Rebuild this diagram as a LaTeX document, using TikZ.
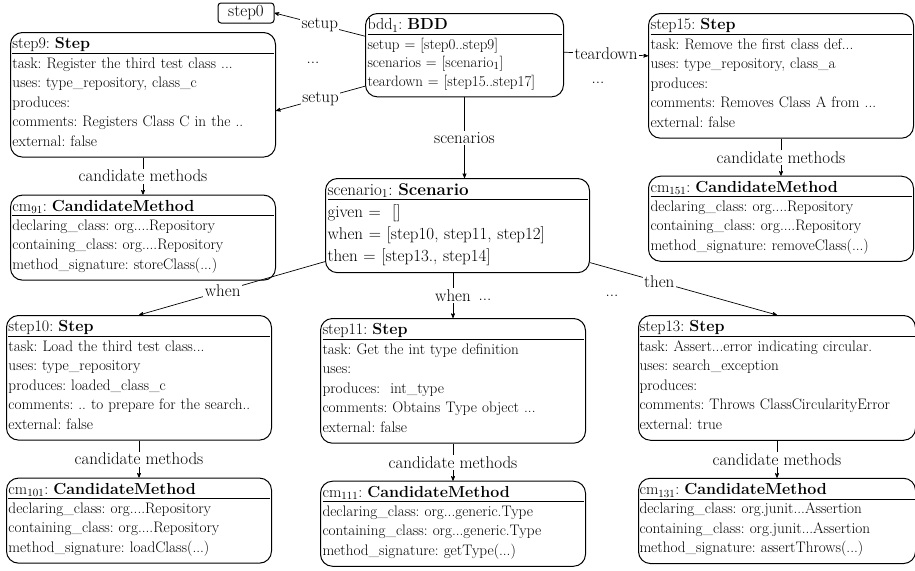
\documentclass[tikz,border=0pt]{standalone}
\usepackage{amsmath}
\usepackage{tikz}
\usetikzlibrary{arrows}
\usetikzlibrary{positioning}
\tikzset{->, > = stealth', node distance = 37pt}
\tikzset{
  obj/.style = {draw, rounded corners = 12pt, line width = 1pt, anchor = north west, align = left,
    inner xsep = 2pt, inner ysep = 5pt, text width = 261pt, font = \fontsize{15.2}{19.5}\selectfont},
  cand/.style = {obj, anchor = north},
  rel/.style = {fill = white, inner sep = 1.5pt, font = \fontsize{17}{20}\selectfont},
  link/.style = {line width = 0.7pt},
}
\newcommand{\objhead}[2]{{\fontsize{16}{19.5}\selectfont #1: \textbf{#2}}\par\kern1.5pt\hrule height 0.9pt\kern3.5pt}
\frenchspacing

\begin{document}
\begin{tikzpicture}[x = 1pt, y = -1pt]
    \useasboundingbox (0,0) rectangle (915,570);
    % objects
    \node [draw, rounded corners = 3pt, line width = 1pt, minimum width = 56pt, minimum height = 20pt, inner sep = 0pt,
      font = \fontsize{17}{18}\selectfont] (step0) at (246,13) {step0};
    \node [obj, text width = 194pt, font = \fontsize{15}{18.5}\selectfont] (bdd) at (365,13) {\objhead{bdd$_1$}{BDD}
      setup = [step0..step9]\\
      scenarios = [scenario$_1$]\\
      teardown = [step15..step17]\strut};
    \node [obj] (step9) at (10,32) {\objhead{step9}{Step}
      task: Register the third test class ...\\
      uses: type\_repository, class\_c\\
      produces:\\
      comments: Registers Class C in the ..\\
      external: false\strut};
    \node [cand, below = of step9] (cm91) {\objhead{cm$_{91}$}{CandidateMethod}
      declaring\_class: org....Repository\\
      containing\_class: org....Repository\\
      method\_signature: storeClass(...)\strut};
    \node [obj] (step15) at (648,13) {\objhead{step15}{Step}
      task: Remove the first class def...\\
      uses: type\_repository, class\_a\\
      produces:\\
      comments: Removes Class A from ...\\
      external: false\strut};
    \node [cand, below = of step15] (cm151) {\objhead{cm$_{151}$}{CandidateMethod}
      declaring\_class: org....Repository\\
      containing\_class: org....Repository\\
      method\_signature: removeClass(...)\strut};
    \node [obj, text width = 260pt, font = \fontsize{17}{22}\selectfont] (scenario) at (325,178) {{\fontsize{17}{22}\selectfont scenario$_1$: \textbf{Scenario}}\par\kern1.5pt\hrule height 0.9pt\kern4pt
      given = \ []\\
      when = [step10, step11, step12]\\
      then = [step13., step14]\strut};
    \node [obj] (step10) at (6,315) {\objhead{step10}{Step}
      task: Load the third test class...\\
      uses: type\_repository\\
      produces: loaded\_class\_c\\
      comments: .. to prepare for the search..\\
      external: false\strut};
    \node [cand, below = of step10] (cm101) {\objhead{cm$_{101}$}{CandidateMethod}
      declaring\_class: org....Repository\\
      containing\_class: org....Repository\\
      method\_signature: loadClass(...)\strut};
    \node [obj] (step11) at (320,318) {\objhead{step11}{Step}
      task: Get the int type definition\\
      uses:\\
      produces: \ int\_type\\
      comments: Obtains Type object ...\\
      external: false\strut};
    \node [cand, below = of step11] (cm111) {\objhead{cm$_{111}$}{CandidateMethod}
      declaring\_class: org...generic.Type\\
      containing\_class: org...generic.Type\\
      method\_signature: getType(...)\strut};
    \node [obj, text width = 275pt, inner xsep = 1pt] (step13) at (638,315) {\objhead{step13}{Step}
      task: Assert...error indicating circular.\\
      uses: search\_exception\\
      produces:\\
      comments: Throws ClassCircularityError\\
      external: true\strut};
    \node [cand, text width = 275pt, inner xsep = 1pt, below = of step13] (cm131) {\objhead{cm$_{131}$}{CandidateMethod}
      declaring\_class: org.junit...Assertion\\
      containing\_class: org.junit...Assertion\\
      method\_signature: assertThrows(...)\strut};
    % paths
    \draw [link] ([yshift=19pt]bdd.west) -- node [rel] {setup} (step0.east);
    \draw [link] ([yshift=-31pt]bdd.west) -- node [rel] {setup} ([yshift=-16pt]step9.east);
    \draw [link] ([yshift=3pt]bdd.east) -- node [rel] {teardown} ([yshift=20pt]step15.west);
    \draw [link] (bdd.south) -- node [rel] {scenarios} (bdd.south |- scenario.north);
    \draw [link] ([yshift=-36pt]scenario.west) -- node [rel, pos = 0.55] {when} (step10.north);
    \draw [link] (step11.north |- scenario.south) -- node [rel] {when} (step11.north);
    \draw [link] ([yshift=-37pt]scenario.east) -- node [rel, pos = 0.37] {then} (step13.north);
    \draw [link] (step9) edge node [rel] {candidate methods} (cm91);
    \draw [link] (step15) edge node [rel] {candidate methods} (cm151);
    \draw [link] (step10) edge node [rel] {candidate methods} (cm101);
    \draw [link] (step11) edge node [rel] {candidate methods} (cm111);
    \draw [link] (step13) edge node [rel] {candidate methods} (cm131);
    % elided links
    \node [rel] (dotsA) at (313,63) {...};
    \node [rel] (dotsB) at (598,83) {...};
    \node [rel] (dotsC) at (485,300) {...};
    \node [rel] (dotsD) at (612,296) {...};
\end{tikzpicture}
\end{document}
